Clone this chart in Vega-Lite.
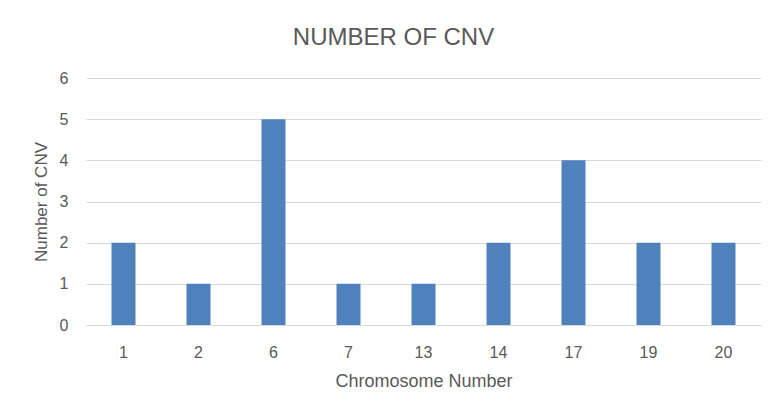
{
  "$schema": "https://vega.github.io/schema/vega-lite/v6.json",
  "width": 675,
  "height": 247,
  "autosize": {"type": "none"},
  "padding": {"left": 86, "top": 78, "right": 23, "bottom": 93},
  "background": "white",
  "title": {
    "text": "NUMBER OF CNV",
    "font": "Liberation Sans Narrow, Liberation Sans",
    "fontSize": 24,
    "fontWeight": "normal",
    "color": "#595959",
    "anchor": "middle",
    "frame": "group",
    "dx": -30,
    "offset": 20
  },
  "data": {
    "values": [
      {"chr": "1", "cnv": 2},
      {"chr": "2", "cnv": 1},
      {"chr": "6", "cnv": 5},
      {"chr": "7", "cnv": 1},
      {"chr": "13", "cnv": 1},
      {"chr": "14", "cnv": 2},
      {"chr": "17", "cnv": 4},
      {"chr": "19", "cnv": 2},
      {"chr": "20", "cnv": 2}
    ]
  },
  "mark": {"type": "bar", "color": "#4f81bd"},
  "encoding": {
    "x": {
      "field": "chr",
      "type": "ordinal",
      "sort": null,
      "scale": {"paddingInner": 0.68, "paddingOuter": 0.34},
      "axis": {
        "title": "Chromosome Number",
        "labelAngle": 0,
        "labelFont": "Liberation Sans Narrow, Liberation Sans",
        "labelFontSize": 16,
        "labelColor": "#595959",
        "labelPadding": 19,
        "titleFont": "Liberation Sans Narrow, Liberation Sans",
        "titleFontSize": 18,
        "titleFontWeight": "normal",
        "titleColor": "#595959",
        "titlePadding": 12,
        "ticks": false,
        "domainColor": "#d9d9d9",
        "domainWidth": 1
      }
    },
    "y": {
      "field": "cnv",
      "type": "quantitative",
      "scale": {"domain": [0, 6], "nice": false},
      "axis": {
        "title": "Number of CNV",
        "values": [0, 1, 2, 3, 4, 5, 6],
        "labelOverlap": false,
        "labelFont": "Liberation Sans Narrow, Liberation Sans",
        "labelFontSize": 16,
        "labelColor": "#595959",
        "labelPadding": 18,
        "titleFont": "Liberation Sans Narrow, Liberation Sans",
        "titleFontSize": 17,
        "titleFontWeight": "normal",
        "titleColor": "#595959",
        "titlePadding": 9,
        "ticks": false,
        "domain": false,
        "gridColor": "#d9d9d9",
        "gridWidth": 1
      }
    }
  },
  "config": {"view": {"stroke": null}}
}
